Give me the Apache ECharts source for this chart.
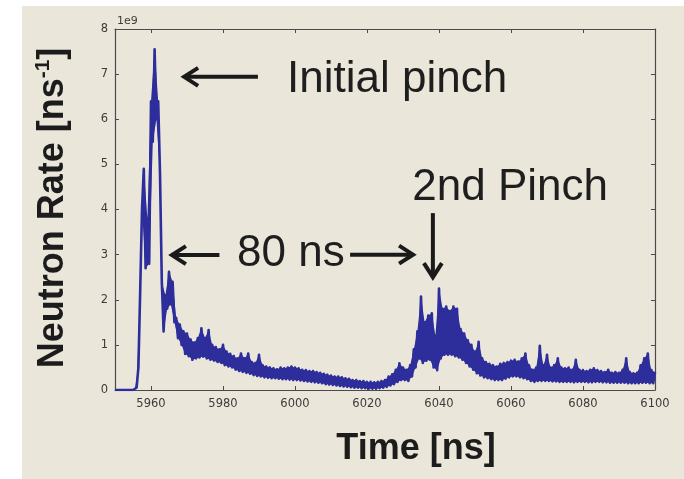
<!DOCTYPE html>
<html><head><meta charset="utf-8">
<script src="https://cdn.jsdelivr.net/npm/echarts@6/dist/echarts.min.js"></script>
<style>html,body{margin:0;padding:0;background:#fff}#c{width:684px;height:479px}</style>
</head><body><div id="c"></div>
<script>
// Time grid: upper envelope sampled at T0 + i*STEP, lower envelope at T0 + i*STEP + STEP/2
const T0 = 5950;
const STEP = 1;
// Neutron rate, units of 1e9 ns^-1 (upper edge of the noisy band)
const upperEnvelope = [
  0,0,0,0,0,0,0.05,2.2,4.9,3.8,
  6.4,7.55,6.4,2.4,2.1,2.62,2.4,1.6,1.45,1.3,
  1.25,1.12,1.05,1.15,1.37,1.15,1.33,1.0,0.95,0.9,
  1.0,0.85,0.8,0.75,0.7,0.81,0.7,0.81,0.62,0.6,
  0.78,0.55,0.52,0.5,0.48,0.46,0.5,0.48,0.5,0.52,
  0.5,0.48,0.45,0.44,0.42,0.42,0.4,0.38,0.36,0.34,
  0.32,0.3,0.3,0.28,0.26,0.25,0.22,0.22,0.2,0.2,
  0.18,0.18,0.17,0.18,0.2,0.22,0.3,0.35,0.45,0.59,
  0.5,0.45,0.55,0.9,1.3,2.07,1.5,1.65,1.7,1.2,
  2.25,1.8,1.85,1.75,1.85,1.8,1.35,1.25,1.1,1.0,
  0.85,1.07,0.7,0.62,0.58,0.55,0.52,0.58,0.6,0.62,
  0.65,0.67,0.63,0.7,0.81,0.55,0.45,0.5,0.98,0.55,
  0.78,0.5,0.55,0.7,0.5,0.48,0.5,0.45,0.67,0.45,
  0.44,0.42,0.45,0.48,0.44,0.42,0.4,0.45,0.38,0.4,
  0.38,0.45,0.7,0.4,0.37,0.38,0.55,0.7,0.81,0.44,
  0.4
];
// lower edge of the noisy band (half a step later)
const lowerEnvelope = [
  0,0,0,0,0,0,0.5,4.0,2.7,2.8,
  5.5,6.0,4.8,1.3,1.8,1.9,1.5,1.15,1.0,0.8,
  0.75,0.67,0.7,0.72,0.74,0.7,0.67,0.65,0.62,0.6,
  0.55,0.52,0.5,0.45,0.42,0.4,0.38,0.36,0.33,0.31,
  0.3,0.28,0.27,0.26,0.26,0.25,0.24,0.24,0.23,0.22,
  0.22,0.21,0.2,0.19,0.18,0.17,0.16,0.15,0.13,0.12,
  0.11,0.1,0.09,0.08,0.07,0.06,0.05,0.05,0.04,0.04,
  0.03,0.03,0.03,0.04,0.05,0.07,0.1,0.13,0.18,0.22,
  0.22,0.2,0.3,0.5,0.7,0.6,0.65,0.67,0.5,0.44,
  0.7,0.78,0.78,0.78,0.75,0.72,0.67,0.6,0.52,0.45,
  0.37,0.32,0.28,0.26,0.24,0.22,0.22,0.22,0.25,0.28,
  0.3,0.3,0.28,0.26,0.24,0.2,0.18,0.2,0.2,0.2,
  0.2,0.19,0.19,0.18,0.18,0.18,0.18,0.17,0.18,0.18,
  0.18,0.17,0.17,0.18,0.18,0.17,0.17,0.16,0.16,0.16,
  0.16,0.16,0.15,0.15,0.15,0.15,0.16,0.16,0.15,0.15
];
const xTickLabels = [5960,5980,6000,6020,6040,6060,6080,6100];
const yTickLabels = [0,1,2,3,4,5,6,7,8];
const xRange = [5950, 6100];
const yRange = [0, 8];
const yOffsetText = '1e9';
const xTitle = 'Time [ns]';
const yTitleMain = 'Neutron Rate [ns';
const yTitleSup = '-1';
// annotations in data coordinates [time, rate]
const annoTexts = [
  {text: 'Initial pinch', at: [5997.8, 6.87]},
  {text: '80 ns', at: [5983.9, 3.02]},
  {text: '2nd Pinch', at: [6032.6, 4.48]}
];
const annoArrows = [
  {from: [5989.7, 6.94], to: [5969.2, 6.94]},
  {from: [5979.0, 2.99], to: [5965.8, 2.99]},
  {from: [6015.3, 3.0], to: [6032.8, 3.0]},
  {from: [6038.3, 3.92], to: [6038.3, 2.5]}
];

const upperPts = upperEnvelope.map((v, i) => [T0 + i * STEP, v]);
const lowerPts = lowerEnvelope.map((v, i) => [T0 + i * STEP + STEP / 2, v]);
const bandData = [];
for (let i = 0; i < upperPts.length; i++) {
  bandData.push(upperPts[i]);
  if (i < lowerPts.length) bandData.push(lowerPts[i]);
}
const BLUE = '#2d2d9c';
const BEIGE = '#ebe6da';
const AXIS = '#4a4a4a';
const chart = echarts.init(document.getElementById('c'), null, {renderer: 'canvas'});
const axisLine = {show: true, onZero: false, lineStyle: {color: AXIS, width: 1.2}};
const tick = {show: true, inside: true, length: 4, lineStyle: {color: AXIS, width: 1}};
const option = {
  animation: false,
  backgroundColor: '#ffffff',
  grid: {left: 115, right: 29, top: 29, bottom: 89, show: true, backgroundColor: BEIGE, borderWidth: 0},
  xAxis: [
    {type: 'value', min: xRange[0], max: xRange[1], position: 'bottom', axisLine,
     axisTick: Object.assign({customValues: xTickLabels}, tick),
     axisLabel: {customValues: xTickLabels, color: '#3c3c3c', fontSize: 11.5, margin: 8, fontFamily: 'DejaVu Sans',
                 formatter: v => String(v)},
     splitLine: {show: false}},
    {type: 'value', min: xRange[0], max: xRange[1], position: 'top', axisLine,
     axisTick: Object.assign({customValues: xTickLabels}, tick),
     axisLabel: {show: false}, splitLine: {show: false}}
  ],
  yAxis: [
    {type: 'value', min: yRange[0], max: yRange[1], interval: 1, position: 'left', axisLine,
     axisTick: tick,
     axisLabel: {color: '#3c3c3c', fontSize: 11.5, margin: 7, fontFamily: 'DejaVu Sans',
                 formatter: v => yTickLabels.includes(v) ? String(v) : ''},
     splitLine: {show: false}},
    {type: 'value', min: yRange[0], max: yRange[1], interval: 1, position: 'right', axisLine,
     axisTick: tick, axisLabel: {show: false}, splitLine: {show: false}}
  ],
  series: [
    {
      type: 'custom', xAxisIndex: 0, yAxisIndex: 0, clip: true, silent: true,
      data: [[xRange[0], 0]],
      renderItem: (params, api) => {
        const pts = upperPts.map(p => api.coord(p)).concat(lowerPts.slice().reverse().map(p => api.coord(p)));
        return {type: 'polygon', shape: {points: pts}, style: {fill: BLUE, stroke: null}};
      }
    },
    {
      type: 'line', data: bandData, showSymbol: false, symbol: 'none',
      xAxisIndex: 0, yAxisIndex: 0, clip: true,
      lineStyle: {color: BLUE, width: 2.6, join: 'round'}
    }
  ]
};
chart.setOption(option);

const P = (p) => chart.convertToPixel({xAxisIndex: 0, yAxisIndex: 0}, p);
const g = [];
g.push({type: 'rect', z: -10, silent: true, shape: {x: 22, y: 6, width: 700, height: 500}, style: {fill: BEIGE}});
const corner = P([xRange[0], yRange[1]]);
g.push({type: 'text', x: corner[0] + 2, y: corner[1] - 2, style: {text: yOffsetText, fill: '#3c3c3c', font: '11px "DejaVu Sans"', textAlign: 'left', textVerticalAlign: 'bottom'}});
g.push({type: 'text', x: 416, y: 449, style: {text: xTitle, fill: '#1c1c1c', font: 'bold 36px "Liberation Sans"', textAlign: 'center', textVerticalAlign: 'middle'}});
g.push({type: 'text', x: 51, y: 208, rotation: Math.PI / 2,
  style: {text: '{a|' + yTitleMain + '}{s|' + yTitleSup + '}{a|]}', textAlign: 'center', textVerticalAlign: 'middle',
    rich: {a: {fill: '#1c1c1c', fontSize: 36, fontWeight: 'bold', fontFamily: 'Liberation Sans', lineHeight: 40, verticalAlign: 'bottom'},
           s: {fill: '#1c1c1c', fontSize: 21, fontWeight: 'bold', fontFamily: 'Liberation Sans', lineHeight: 40, verticalAlign: 'top', padding: [2, 0, 0, 0]}}}});
annoTexts.forEach(a => {
  const p = P(a.at);
  g.push({type: 'text', x: p[0], y: p[1], style: {text: a.text, fill: '#1e1e1e', font: '44px "Liberation Sans"', textAlign: 'left', textVerticalAlign: 'middle'}});
});
annoArrows.forEach(a => {
  const s = P(a.from), e = P(a.to);
  const dx = e[0] - s[0], dy = e[1] - s[1];
  const L = Math.hypot(dx, dy), ux = dx / L, uy = dy / L;
  const hl = 14, hw = 9;
  const b1 = [e[0] - ux * hl - uy * hw, e[1] - uy * hl + ux * hw];
  const b2 = [e[0] - ux * hl + uy * hw, e[1] - uy * hl - ux * hw];
  g.push({type: 'line', shape: {x1: s[0], y1: s[1], x2: e[0] - ux * 2, y2: e[1] - uy * 2}, style: {stroke: '#1a1a1a', lineWidth: 4}});
  g.push({type: 'polyline', shape: {points: [b1, e, b2]}, style: {stroke: '#1a1a1a', lineWidth: 4, fill: null, lineJoin: 'miter'}});
});
chart.setOption({graphic: g});
</script></body></html>
